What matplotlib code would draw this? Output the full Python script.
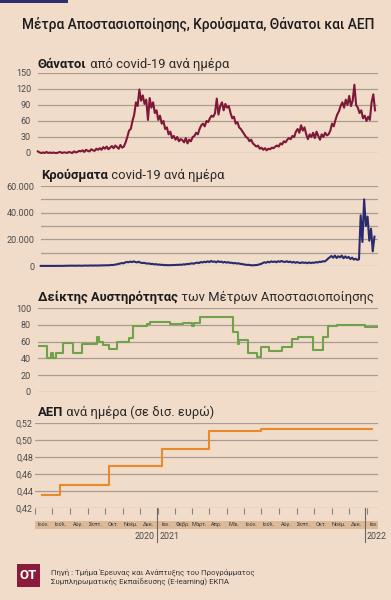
import numpy as np
import pandas as pd
import matplotlib
matplotlib.use('Agg')
import matplotlib.pyplot as plt
import matplotlib.dates as mdates
from matplotlib.patches import Rectangle
from matplotlib.transforms import blended_transform_factory
from matplotlib import font_manager

# ---------------- DATA ----------------
title = "Μέτρα Αποστασιοποίησης, Κρούσματα, Θάνατοι και ΑΕΠ"

# Daily deaths, sampled every 3 days
deaths_start = '2020-06-06'
deaths = [3, 1, 0, 1, 0, 2, 0, 1, 0, 1, 0, 0, 1, 2, 0, 1, 1, 0, 2, 1, 0, 3, 1,
          2, 4, 3, 5, 2, 6, 4, 3, 7, 5, 4, 8, 6,
          9, 6, 11, 8, 12, 7, 10, 13, 9, 14, 11, 8, 15, 10, 12,
          20, 30, 42, 45, 60, 72, 95, 88, 119,
          98, 108, 92, 100, 62, 103, 85, 95,
          75, 80, 62, 70, 55, 60, 45, 48,
          35, 40, 28, 32, 25, 30, 22, 26, 24,
          20, 28, 18, 25, 22, 30,
          32, 38, 35, 45, 52, 55, 50, 60, 58, 65, 70, 68, 75,
          102, 72, 88, 95, 80, 92, 85, 88,
          75, 65, 68, 55, 58, 48, 45, 40, 35, 30, 28, 22, 25, 18,
          15, 12, 14, 8, 10, 6, 9, 5, 8, 7, 10, 9, 12,
          14, 12, 18, 16, 22, 20, 25, 28, 26, 32, 30,
          40, 45, 38, 52, 42, 48, 35,
          26, 35, 30, 38, 28, 40, 32, 25, 35, 30, 38, 33,
          35, 42, 55, 50, 62, 72, 78, 88,
          95, 85, 100, 90, 107, 88, 98, 128,
          90, 85, 75, 80, 65, 70, 60, 68, 62,
          95, 110, 80]

# Daily cases (thousands), sampled every 3 days
cases_start = '2020-06-11'
cases_k = [0.05, 0.1, 0.05, 0.1, 0.05, 0.1, 0.1, 0.05, 0.1, 0.1,
           0.1, 0.05, 0.15, 0.1, 0.2, 0.15, 0.25, 0.2, 0.3, 0.2,
           0.25, 0.2, 0.3, 0.25, 0.2, 0.3, 0.35, 0.25, 0.3, 0.4,
           0.3, 0.35, 0.4, 0.3, 0.45, 0.4, 0.5, 0.45, 0.6, 0.5,
           0.6, 0.8, 0.7, 1.0, 1.2, 1.5, 1.8, 2.2, 2.0, 2.6, 3.0,
           2.8, 3.3, 2.9, 3.5, 3.0, 2.7, 3.2, 2.5, 2.2, 2.4,
           2.0, 1.8, 1.9, 1.5, 1.6, 1.2, 1.4, 1.0, 1.1, 0.8,
           0.9, 0.6, 0.8, 0.5, 0.7, 0.6, 0.8, 0.7, 0.9, 0.8,
           1.0, 0.9, 1.3, 1.1, 1.6, 1.4, 1.8, 2.0, 1.7, 2.3,
           2.5, 2.2, 3.0, 2.6, 3.2, 2.8, 3.5, 2.9, 3.8, 3.1,
           3.4, 2.7, 3.6, 3.0, 3.3, 2.6, 3.1, 2.5, 2.9, 2.3,
           2.5, 2.0, 2.3, 1.8, 2.0, 1.6, 1.5, 1.2, 1.0, 0.8, 0.9, 0.6, 0.5, 0.6, 0.7,
           0.8, 1.2, 1.5, 2.2, 2.8, 2.4, 3.2, 2.7, 3.5, 3.0,
           3.4, 2.8, 3.6, 3.1, 3.8, 3.2, 3.0, 3.6, 2.9, 3.3,
           2.6, 3.1, 2.4, 2.9, 2.5, 2.2, 2.8, 2.3, 2.6, 2.1,
           2.7, 2.2, 2.5, 2.4, 2.9, 2.6, 3.2, 3.0, 3.6, 3.4,
           4.2, 5.5, 6.5, 7.5, 6.2,
           7.8, 6.0, 7.3, 6.5, 7.8, 5.8, 7.2, 6.0, 6.8, 5.2, 6.3, 4.8, 5.5, 4.6,
           5.0, 38.0, 18.0, 50.0, 30.0, 37.0, 19.0, 28.0, 11.0, 22.0]

# Stringency index (step changes)
stringency_dates = ['2020-06-06', '2020-06-22', '2020-06-29', '2020-07-02', '2020-07-08',
                    '2020-07-20', '2020-08-06', '2020-08-22', '2020-09-17', '2020-09-21',
                    '2020-09-28', '2020-10-08', '2020-10-22', '2020-11-12', '2020-11-19',
                    '2020-12-13', '2020-12-19', '2021-01-22', '2021-02-14', '2021-03-02',
                    '2021-03-05', '2021-03-16', '2021-04-07', '2021-05-12', '2021-05-21',
                    '2021-05-23', '2021-06-07', '2021-06-23', '2021-06-30', '2021-07-14',
                    '2021-08-06', '2021-08-23', '2021-09-03', '2021-09-29', '2021-10-16',
                    '2021-10-25', '2021-11-10', '2021-12-28', '2022-01-20']
stringency_values = [55, 40, 46, 40, 46, 58, 46, 57, 65, 59, 56, 51, 60, 64, 79,
                     81, 84, 81, 82, 79, 82, 90, 89, 71, 57, 62, 46, 42, 54, 49,
                     54, 63, 65, 50, 65, 79, 80, 78, 78]

# GDP per day (bn euro), step changes
gdp_dates = ['2020-06-13', '2020-07-15', '2020-10-08', '2021-01-09', '2021-04-01',
             '2021-07-01', '2022-01-10']
gdp_values = [0.436, 0.447, 0.470, 0.490, 0.511, 0.513, 0.513]

month_labels = ['Ιούν.', 'Ιούλ.', 'Αύγ.', 'Σεπτ.', 'Οκτ.', 'Νοέμ.', 'Δεκ.',
                'Ιαν.', 'Φεβρ.', 'Μάρτ.', 'Απρ.', 'Μάι.', 'Ιούν.', 'Ιούλ.',
                'Αύγ.', 'Σεπτ.', 'Οκτ.', 'Νοέμ.', 'Δεκ.', 'Ιαν.']
year_labels = ['2020', '2021', '2022']

deaths_ticks = [0, 30, 60, 90, 120, 150]
cases_ticks = [0, 20, 40, 60]
cases_tick_labels = ['0', '20.000', '40.000', '60.000']
stringency_ticks = [0, 20, 40, 60, 80, 100]
gdp_ticks = [0.42, 0.44, 0.46, 0.48, 0.50, 0.52]

source_lines = ["Πηγή : Τμήμα Έρευνας και Ανάπτυξης του Προγράμματος",
                "Συμπληρωματικής Εκπαίδευσης (E-learning) ΕΚΠΑ"]

# ---------------- STYLE ----------------
W, H = 391, 600
BG = '#f0dcc9'
GRID = '#a89c92'
TXT = '#1c1c1c'
TICK_TXT = '#4a4a4a'
FONT = 'Roboto'
plt.rcParams['font.family'] = [FONT, 'DejaVu Sans']

avail = {f.name for f in font_manager.fontManager.ttflist}
NARROW = 'Liberation Sans Narrow' if 'Liberation Sans Narrow' in avail else FONT

fig = plt.figure(figsize=(W / 100, H / 100), dpi=100)
fig.patch.set_facecolor(BG)

D0 = mdates.date2num(pd.Timestamp('2020-06-01'))
X0_PX = 35.0
PPD = 332.0 / 579.0   # pixels per day
RIGHT_PX = 378.0
LW = 1.5
PT_FS = 9.4


def px2d(px):
    return D0 + (px - X0_PX) / PPD


def fy(py):
    return 1 - py / H


def fx(px):
    return px / W


def add_panel(left, top, bottom, ylim, ticks, labels, pad):
    ax = fig.add_axes([fx(left), fy(bottom), fx(RIGHT_PX - left), (bottom - top) / H])
    ax.set_facecolor('none')
    ax.set_xlim(px2d(left), px2d(RIGHT_PX))
    ax.set_ylim(*ylim)
    for s in ax.spines.values():
        s.set_visible(False)
    ax.set_xticks([])
    ax.set_yticks(ticks)
    ax.set_yticklabels(labels)
    ax.tick_params(axis='y', length=0, pad=pad, labelsize=6.5, labelcolor=TICK_TXT)
    return ax


def panel_title(y_px, x_px, bold, rest):
    t = fig.text(fx(x_px), fy(y_px), bold, fontsize=PT_FS, fontweight='bold',
                 color=TXT, va='baseline', ha='left')
    plt.annotate(' ' + rest, xy=(1, 0), xycoords=t, fontsize=PT_FS,
                 color='#2a2a2a', va='bottom', ha='left', annotation_clip=False)
    return t


# top bar & title
fig.patches.append(Rectangle((0, fy(3)), fx(68), 3 / H, transform=fig.transFigure,
                             facecolor='#2e2f6e', edgecolor='none'))
fig.text(fx(22), fy(29.3), title, fontsize=9.95, color=TXT, va='baseline', ha='left',
         fontweight='medium')

# ---- Deaths ----
ax1 = add_panel(38, 73, 153, (0, 150), deaths_ticks, [str(v) for v in deaths_ticks], 5)
for v in deaths_ticks:
    ax1.axhline(v, color=GRID, lw=0.9, zorder=1)
d_dates = pd.date_range(deaths_start, periods=len(deaths), freq='3D')
ax1.plot(d_dates, deaths, color='#7e1836', lw=LW, zorder=3, clip_on=False)
panel_title(67.7, 38, 'Θάνατοι', 'από covid-19 ανά ημέρα')

# ---- Cases ----
grid_c = [0, 10, 20, 30, 40, 50, 60]
ax2 = add_panel(41, 186, 266, (0, 60), cases_ticks, cases_tick_labels, 4.5)
for v in grid_c:
    ax2.axhline(v, color=GRID, lw=0.9, zorder=1)
c_dates = pd.date_range(cases_start, periods=len(cases_k), freq='3D')
ax2.plot(c_dates, cases_k, color='#2a2b6e', lw=LW, zorder=3, clip_on=False)
panel_title(179.3, 41, 'Κρούσματα', 'covid-19 ανά ημέρα')

# ---- Stringency ----
ax3 = add_panel(38, 308.3, 391.7, (0, 100), stringency_ticks,
                [str(v) for v in stringency_ticks], 5)
for v in stringency_ticks:
    ax3.axhline(v, color=GRID, lw=0.9, zorder=1)
ax3.step(pd.to_datetime(stringency_dates), stringency_values, where='post',
         color='#6fa24b', lw=LW, zorder=3)
panel_title(300.7, 38, 'Δείκτης Αυστηρότητας', 'των Μέτρων Αποστασιοποίησης')

# ---- GDP ----
ax4 = add_panel(35, 423.3, 508.3, (0.42, 0.52), gdp_ticks,
                [f'{v:.2f}'.replace('.', ',') for v in gdp_ticks], 1.5)
for v in gdp_ticks:
    ax4.axhline(v, color=GRID, lw=0.9, zorder=1)
ax4.step(pd.to_datetime(gdp_dates), gdp_values, where='post',
         color='#e8892c', lw=LW, zorder=3)
panel_title(415.7, 38, 'ΑΕΠ', 'ανά ημέρα (σε δισ. ευρώ)')

month_starts = pd.date_range('2020-06-01', periods=len(month_labels), freq='MS')
ax4.set_xticks(month_starts)
ax4.set_xticklabels([])
ax4.tick_params(axis='x', length=4.5, width=0.8, color='#8a8078', direction='out')

# ---- month band ----
axb = fig.add_axes([fx(35), fy(529), fx(RIGHT_PX - 35), 8.5 / H])
axb.set_xlim(px2d(35), px2d(RIGHT_PX + 2))
axb.set_ylim(0, 1)
axb.set_facecolor('#dcb998')
for s in axb.spines.values():
    s.set_visible(False)
axb.set_xticks([])
axb.set_yticks([])
for i, lab in enumerate(month_labels):
    ms = month_starts[i]
    me = ms + pd.offsets.MonthBegin(1)
    mid = ms + (me - ms) / 2
    axb.text(mid, 0.48, lab, fontsize=4.0, family=NARROW, color='#3a3a3a',
             ha='center', va='center')

trans = blended_transform_factory(axb.transData, fig.transFigure)
for yr_start in ['2021-01-01', '2022-01-01']:
    axb.plot([pd.Timestamp(yr_start)] * 2, [fy(508), fy(542)], transform=trans,
             color='#6e6660', lw=0.8, clip_on=False, zorder=5)
axb.text(pd.Timestamp('2021-01-01') - pd.Timedelta(days=5), fy(539), year_labels[0],
         transform=trans, fontsize=6.4, color=TICK_TXT, ha='right', va='baseline')
axb.text(pd.Timestamp('2021-01-01') + pd.Timedelta(days=5), fy(539), year_labels[1],
         transform=trans, fontsize=6.4, color=TICK_TXT, ha='left', va='baseline')
axb.text(pd.Timestamp('2022-01-01') + pd.Timedelta(days=3), fy(539), year_labels[2],
         transform=trans, fontsize=6.4, color=TICK_TXT, ha='left', va='baseline')

# ---- logo & source ----
fig.patches.append(Rectangle((fx(17), fy(587)), fx(23), 23 / H, transform=fig.transFigure,
                             facecolor='#8c1b3b', edgecolor='none'))
fig.text(fx(28.5), fy(575.5), 'OT', fontsize=9.5, fontweight='bold', color='white',
         ha='center', va='center')
fig.text(fx(51), fy(574.5), source_lines[0], fontsize=5.7, color='#3a3a3a',
         ha='left', va='baseline')
fig.text(fx(51), fy(583.5), source_lines[1], fontsize=5.7, color='#3a3a3a',
         ha='left', va='baseline')

fig.savefig('out.png', dpi=100, facecolor=BG)
